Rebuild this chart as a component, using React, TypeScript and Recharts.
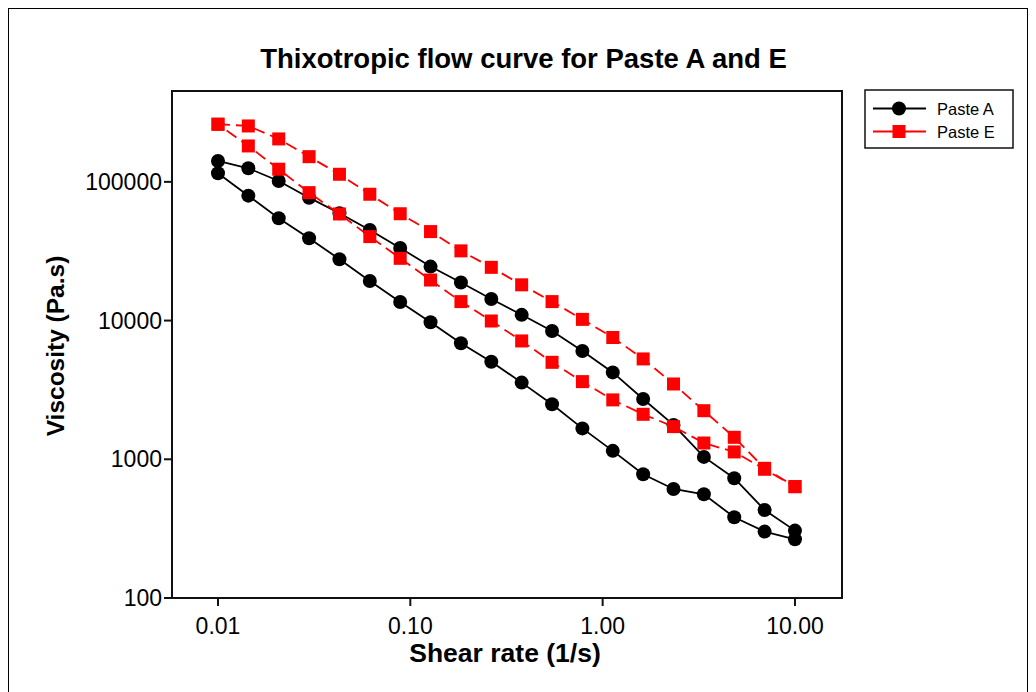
import React from 'react';
import { LineChart, Line, XAxis, YAxis, ReferenceArea } from 'recharts';

// Shear rate (1/s) sample points
const shearRate = [0.01, 0.01438, 0.02069, 0.02976, 0.04281, 0.06158, 0.08859, 0.1274, 0.1833, 0.2637, 0.3793, 0.5456, 0.7848, 1.129, 1.624, 2.336, 3.36, 4.833, 6.952, 10];

// Viscosity (Pa.s)
const pasteAUp = [141500, 125300, 101500, 76900, 59400, 45000, 33400, 24500, 18800, 14300, 11000, 8400, 6040, 4230, 2720, 1770, 1040, 730, 431, 306];
const pasteADown = [115300, 79500, 54700, 39200, 27700, 19300, 13600, 9720, 6860, 5050, 3570, 2490, 1670, 1150, 780, 611, 559, 382, 301, 265];
const pasteEUp = [260200, 252900, 203900, 151900, 113400, 81400, 58900, 43800, 31800, 24200, 18100, 13700, 10200, 7550, 5290, 3490, 2240, 1440, 861, 635];
const pasteEDown = [260200, 181500, 123300, 83600, 58700, 40300, 28100, 19600, 13700, 9930, 7130, 5000, 3630, 2680, 2110, 1720, 1310, 1130, 847, 635];

const xTicks = [0.01, 0.1, 1, 10];
const yTicks = [100, 1000, 10000, 100000];
const xDomain = [0.005766, 17.56];
const yDomain = [100, 451800];

const title = 'Thixotropic flow curve for Paste A and E';
const xTitle = 'Shear rate (1/s)';
const yTitle = 'Viscosity (Pa.s)';
const seriesNames = ['Paste A', 'Paste E'];

const loop = (up: number[], down: number[]) => {
  const a = shearRate.map((x, i) => ({ x, v: up[i] }));
  const b = shearRate.map((x, i) => ({ x, v: down[i] })).reverse();
  return [...a, ...b];
};

const dataA = loop(pasteAUp, pasteADown);
const dataE = loop(pasteEUp, pasteEDown);

const FONT = '"Liberation Sans", Arial, sans-serif';

const SquareDot = (props: any) => {
  const { cx, cy, index } = props;
  if (cx == null || cy == null) return <g key={`s-${index}`} />;
  return <rect key={`s-${index}`} x={cx - 6.5} y={cy - 6.5} width={13} height={13} fill="#FF0000" />;
};

export default function App() {
  return (
    <div
      style={{
        position: 'relative',
        width: 1020,
        height: 684,
        borderLeft: '1px solid #000',
        borderTop: '1px solid #000',
        borderRight: '1px solid #000',
        boxSizing: 'border-box',
        background: '#fff',
      }}
    >
      <LineChart
        width={1018}
        height={683}
        margin={{ top: 82, right: 185, bottom: 24, left: 23 }}
        style={{ fontFamily: FONT }}
      >
        <XAxis
          dataKey="x"
          type="number"
          scale="log"
          domain={xDomain}
          allowDataOverflow
          ticks={xTicks}
          tickFormatter={(v: number) => v.toFixed(2)}
          height={70}
          tickSize={8}
          tickMargin={12}
          stroke="#111"
          strokeWidth={2}
          tick={{ fill: '#000', fontSize: 23, fontFamily: FONT }}
        />
        <YAxis
          dataKey="v"
          type="number"
          scale="log"
          domain={yDomain}
          allowDataOverflow
          ticks={yTicks}
          tickFormatter={(v: number) => String(v)}
          width={140}
          tickSize={8}
          tickMargin={2}
          stroke="#111"
          strokeWidth={2}
          tick={{ fill: '#000', fontSize: 23, fontFamily: FONT }}
        />
        <ReferenceArea
          x1={xDomain[0]}
          x2={xDomain[1]}
          y1={yDomain[0]}
          y2={yDomain[1]}
          fill="none"
          stroke="#111"
          strokeWidth={2}
          ifOverflow="visible"
        />
        <Line
          data={dataA}
          dataKey="v"
          name={seriesNames[0]}
          stroke="#000"
          strokeWidth={1.8}
          dot={{ r: 7, fill: '#000', stroke: '#000', strokeWidth: 0 }}
          activeDot={false}
          isAnimationActive={false}
        />
        <Line
          data={dataE}
          dataKey="v"
          name={seriesNames[1]}
          stroke="#FF0000"
          strokeWidth={1.8}
          strokeDasharray="12 6"
          dot={SquareDot}
          activeDot={false}
          isAnimationActive={false}
        />
      </LineChart>
      <svg
        width={1018}
        height={683}
        style={{ position: 'absolute', left: 0, top: 0, pointerEvents: 'none', fontFamily: FONT }}
      >
        <text x={514.5} y={59} textAnchor="middle" fontSize={27.5} fontWeight="bold" fill="#000">
          {title}
        </text>
        <text x={496} y={653} textAnchor="middle" fontSize={26.5} fontWeight="bold" fill="#000">
          {xTitle}
        </text>
        <text
          x={46}
          y={337}
          textAnchor="middle"
          dominantBaseline="central"
          fontSize={24.5}
          fontWeight="bold"
          fill="#000"
          transform="rotate(-90 46 337)"
        >
          {yTitle}
        </text>
        <rect x={856} y={81} width={148} height={58} fill="#fff" stroke="#111" strokeWidth={1.5} />
        <line x1={864} y1={99.5} x2={917} y2={99.5} stroke="#000" strokeWidth={1.8} />
        <circle cx={890} cy={99.5} r={7} fill="#000" />
        <text x={928} y={105.5} fontSize={16.5} fill="#000">{seriesNames[0]}</text>
        <line x1={864} y1={122.5} x2={917} y2={122.5} stroke="#FF0000" strokeWidth={1.8} />
        <rect x={883.5} y={116} width={13} height={13} fill="#FF0000" />
        <text x={928} y={128.5} fontSize={16.5} fill="#000">{seriesNames[1]}</text>
      </svg>
    </div>
  );
}
